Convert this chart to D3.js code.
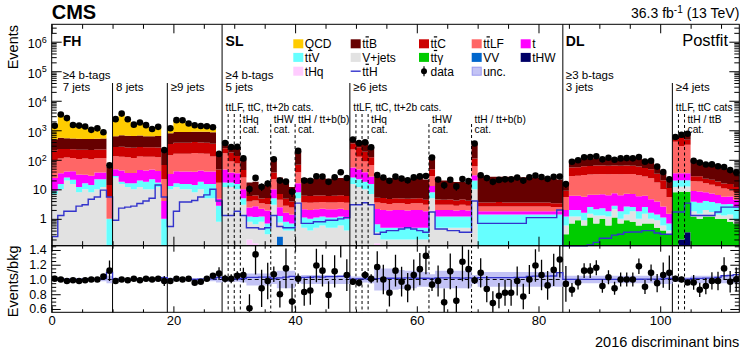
<!DOCTYPE html>
<html><head><meta charset="utf-8">
<script src="https://cdnjs.cloudflare.com/ajax/libs/d3/7.8.5/d3.min.js"></script>
<style>
body{margin:0;background:#fff;}
svg{display:block;font-family:"Liberation Sans",Arial,Helvetica,sans-serif;}
</style>
</head><body>
<svg id="c" width="747" height="352"></svg>
<script>
// ---------------- DATA (per-bin yields, 113 bins) ----------------
const nBins = 113;
const xTicksMajor = [0, 20, 40, 60, 80, 100];
const ratioTicks = [0.6, 0.8, 1.0, 1.2, 1.4];

// QCD only in FH (bins 0-27)
const qcdFH = [900,2850,2100,1000,950,850,530,650,300,0,
  1800,3000,1750,900,1200,850,480,650,0,
  400,1300,1300,800,650,550,450,350,0];

const ttB = [290,330,310,300,300,290,290,290,300,44,
  360,400,390,380,390,360,360,380,150,
  450,500,500,500,500,500,520,500,100,
  120,90,130,60, 11,12,9,11, 60,18,11,8, 130,18,17,17,18,17,17,18,17,
  150,120,180,140, 21,20,19,19,19,18,19,19,17, 80,17.5,15.5,14.5,13.5,13.5,12.5,
  250,24,24,23,23,23,23,22,22,22,21,21,21,20,18,
  7,45,45,48,50,50,50,50,50,49,50,49,47,43,38,28,16,9,
  90,160,320,68,66,53,50,43,34,31,26];

const ttC = [110,120,110,110,110,110,110,110,110,8.5,
  140,150,140,140,140,140,140,140,45,
  200,220,220,220,230,220,220,220,30,
  80,90,60,20, 2,2,1.5,2, 15,2.5,2,1.5, 30,2.5,2.4,2.6,2.5,2.3,2.5,2.6,2.4,
  130,140,100,55, 1.6,1.7,1.5,1.6,1.5,1.6,1.5,1.6,1.4, 20,1.5,1.4,1.5,1.4,1.5,1.3,
  50,1,1,1,1.1,1,1,1,1,1,1,1,1,0.9,0.9,
  3.5,27,27,30,30,31,31,31,31,30,31,30,29,26,24,17,10,5.5,
  90,250,150,9,9,7,7,6,5,5,4];

const ttLF = [75,75,80,75,75,80,75,75,75,4.5,
  85,85,85,80,85,85,80,80,18,
  110,120,120,120,130,120,120,90,12,
  120,50,40,15, 1.5,1.5,1.2,1.2, 12,2,1.2,1, 22,1.5,1.5,1.5,1.5,1.5,1.5,1.5,1.5,
  170,80,50,40, 1.4,1.4,1.3,1.4,1.4,1.3,1.4,1.4,1.2, 15,1,1,1,0.9,1,0.9,
  30,0.8,0.8,0.8,0.8,0.8,0.8,0.8,0.8,0.8,0.8,0.8,0.8,0.7,0.7,
  3.5,22,23,25,25,26,26,26,26,26,26,26,24,21,19,13,7.5,4,
  370,260,290,10,10,8,7,6,5,4.5,3.5];

const tSingle = [15,20,15,20,20,15,15,15,15,0,
  20,25,20,20,25,25,25,25,3,
  20,25,25,25,25,25,25,25,2,
  30,20,20,5, 1.2,1.5,1.0,1.2, 5,1.2,0.8,0.7, 8,1,1,1,1,1,1,1,1,
  30,25,20,12, 1.5,1.5,1.4,1.5,1.5,1.4,1.5,1.5,1.3, 5,0.8,0.8,0.8,0.7,0.8,0.7,
  10,0.4,0.4,0.4,0.4,0.4,0.4,0.4,0.4,0.4,0.4,0.4,0.4,0.4,0.4,
  0.8,4,4,4,4,4.5,4.5,4.5,4.5,4.5,4.5,4.5,4,3.5,3,2.5,1.5,0.8,
  15,15,15,5,5,4,3.5,3,2.5,2.5,2];

const ttV = [2,5,5,6,4,6,6,12,10,1,
  3,3,4,6,8,8,12,5,1,
  3,4,5,5,6,8,10,10,2,
  5,5,5,2, 0.4,0.5,0.4,0.4, 2,0.5,0.4,0.3, 3,0.6,0.6,0.6,0.6,0.6,0.6,0.6,0.6,
  10,10,8,8, 0.3,0.3,0.3,0.3,0.3,0.3,0.3,0.3,0.3, 3,0.7,0.7,0.7,0.7,0.7,0.7,
  10,1.3,1.3,1.3,1.3,1.3,1.3,1.3,1.3,1.3,1.3,1.3,1.3,1.3,1.3,
  0.6,0.8,0.8,0.7,1.0,0.8,1.0,0.6,0.7,0.8,1.2,0.7,0.8,1.0,0.6,0.5,0.5,0.3,
  8,8,8,2,2,2,2,2,1.8,1.8,1.5];

const vJets = [7,10,20,15,8,10,8,10,12,0,
  25,15,12,10,12,10,10,12,0,
  10,12,10,10,8,10,5,5,0.8,
  12,12,10,3, 0.6,0.5,0.8,0.3, 3,0.5,0.4,0.4, 5,0.5,0.4,0.5,0.6,0.5,0.5,0.6,0.4,
  15,12,10,7, 0.2,0.2,0.2,0.2,0.2,0.2,0.2,0.2,0.2, 5,0.5,0.5,0.5,0.5,0.5,0.5,
  10,0.1,0.1,0.1,0.1,0.1,0.1,0.1,0.1,0.1,0.1,0.1,0.1,0.1,0.1,
  0.3,0.5,0.3,0.3,0.4,0.6,0.3,0.6,1.0,0.3,0.5,1.0,0.4,0.8,0.3,0.4,0.2,0.1,
  4,4,4,0.6,0.5,0.8,0.5,0.4,0.3,0.6,0.2];

// ttgamma only in DL (bins 84-112)
const ttGammaDL = [0.3,0.7,0.9,0.6,1.1,0.7,1.0,0.6,1.1,0.7,0.9,0.8,0.6,0.7,0.7,0.5,0.4,0.3,
  8,8,8,1.2,1.0,1.2,1.2,1.0,1.0,0.8,0.7];

// sparse small backgrounds: [bin, yield]
const vvBins  = [[37, 0.25]];
const tHWBins = [[103, 0.2], [104, 0.35]];
const tHqBins = [[32, 0.2], [33, 0.15], [53, 0.15]];

// ttH signal (line, not stacked)
const ttH = [0.25,1.3,1.8,1.8,2.7,3,4.6,5.5,9.4,5.5,
  0.9,2.3,2.5,2.7,3.3,4,5,14,5.5,
  0.55,1.8,3.7,3.7,4.2,5.5,6.5,10,4,
  1.3,1.3,1.8,1.3, 0.5,0.5,0.45,0.5, 1.3,0.55,0.5,0.5, 3.4,0.7,0.7,0.8,0.8,0.9,0.9,1.0,1.1,
  3,3,3.5,3, 0.3,0.35,0.4,0.4,0.45,0.5,0.45,0.4,0.35, 1.7,0.45,0.45,0.4,0.4,0.35,0.35,
  4,0.7,0.7,0.7,0.7,0.7,0.7,0.7,0.7,1.1,1.1,1.1,1.1,1.1,2,
  0.02,0.04,0.06,0.08,0.13,0.16,0.22,0.22,0.28,0.3,0.35,0.36,0.36,0.4,0.4,0.33,0.3,0.3,
  1.7,1.7,3.4,1.3,1.3,1.3,1.3,1.7,2.5,2.5,2.5];

// data / background ratio
const ratio = [1.01,1.0,0.98,0.99,0.98,0.99,1.0,1.0,1.04,1.12,
  0.98,1.0,0.99,1.01,0.99,1.01,1.0,1.01,0.98,
  0.98,1.01,1.0,1.01,0.955,0.97,1.01,1.05,1.08,
  1.01,1.01,1.05,1.06, 0.61,1.34,0.88,0.98, 1.07,0.80,1.15,0.70, 1.01,0.83,0.85,1.19,1.12,0.79,1.11,1.55,1.06,
  0.97,0.955,1.06,1.01, 1.17,1.0,0.82,1.12,0.97,0.89,1.06,1.14,1.32, 0.93,0.98,0.69,1.11,0.71,1.24,1.14,
  0.99,1.09,0.87,0.68,0.78,0.82,0.82,0.98,0.77,1.0,1.19,1.06,0.92,1.13,1.27,
  0.94,0.86,0.96,1.12,1.12,1.16,0.91,1.03,0.88,1.0,1.0,1.0,1.18,0.9,1.09,0.95,1.06,1.09,
  1.01,1.0,0.96,0.96,0.86,0.91,0.98,0.98,1.15,0.97,1.0];

// relative background uncertainty (half width of band)
const uncRel = [0.025,0.02,0.02,0.02,0.02,0.02,0.02,0.02,0.025,0.05,
  0.025,0.02,0.02,0.02,0.02,0.02,0.02,0.025,0.04,
  0.025,0.02,0.02,0.02,0.02,0.02,0.02,0.025,0.04,
  0.03,0.03,0.03,0.04, 0.08,0.08,0.08,0.08, 0.06,0.12,0.12,0.12, 0.05,0.06,0.06,0.06,0.06,0.06,0.06,0.06,0.06,
  0.04,0.04,0.04,0.05, 0.15,0.15,0.15,0.14,0.13,0.12,0.12,0.1,0.1, 0.07,0.12,0.12,0.12,0.12,0.12,0.12,
  0.06,0.1,0.1,0.1,0.1,0.1,0.1,0.1,0.1,0.1,0.1,0.1,0.1,0.1,0.1,
  0.05,0.05,0.05,0.05,0.05,0.05,0.05,0.05,0.05,0.05,0.05,0.05,0.05,0.05,0.05,0.05,0.06,0.06,
  0.03,0.03,0.03,0.05,0.05,0.05,0.05,0.05,0.05,0.05,0.05];

// category separators (bin edges)
const solidFull = [28, 84];
const solidPart = [10, 19, 49, 102];
const dashedA = [29, 30, 31, 50, 51, 52, 103, 104];
const dashedB = [36, 40, 62, 69];

// ---------------- BUILD ----------------
function expandOffset(arr, off){ const o = new Array(nBins).fill(0); arr.forEach((v,i)=>o[off+i]=v); return o; }
function expandSparse(pairs){ const o = new Array(nBins).fill(0); pairs.forEach(([b,v])=>o[b]=v); return o; }

const layers = [ // bottom -> top
  {key:'tHq',  vals: expandSparse(tHqBins), color:'#ffccff'},
  {key:'tHW',  vals: expandSparse(tHWBins), color:'#000066'},
  {key:'VV',   vals: expandSparse(vvBins), color:'#0066cc'},
  {key:'ttG',  vals: expandOffset(ttGammaDL, 84), color:'#00cc00'},
  {key:'Vjets',vals: vJets, color:'#e2e2e2'},
  {key:'ttV',  vals: ttV, color:'#66ffff'},
  {key:'t',    vals: tSingle, color:'#ff00ff'},
  {key:'ttLF', vals: ttLF, color:'#ff6666'},
  {key:'ttC',  vals: ttC, color:'#cc0000'},
  {key:'ttB',  vals: ttB, color:'#660000'},
  {key:'QCD',  vals: expandOffset(qcdFH, 0), color:'#ffcc00'}
];

const total = d3.range(nBins).map(i => d3.sum(layers, l => l.vals[i]));

const svg = d3.select('#c');
const X0 = 51.7, X1 = 739.3;
const MT = 24.3, MB = 245.7, RT = 245.7, RB = 312.3;
const x = d3.scaleLinear().domain([0, nBins]).range([X0, X1]);
const yMin = Math.pow(10, -0.91), yMax = Math.pow(10, 6.59);
const y = d3.scaleLog().domain([yMin, yMax]).range([MB, MT]).clamp(true);
const yr = d3.scaleLinear().domain([0.555, 1.458]).range([RB, RT]).clamp(true);

svg.append('rect').attr('width',747).attr('height',352).attr('fill','#fff');

// stacked histogram
const cum = new Array(nBins).fill(0);
const area = d3.area().x(d=>d[0]).y0(d=>d[1]).y1(d=>d[2]);
layers.forEach(l => {
  const pts = [];
  for (let i=0;i<nBins;i++){
    const lo = cum[i], hi = cum[i] + l.vals[i];
    const y0 = y(Math.max(lo, yMin)), y1 = y(Math.max(hi, yMin));
    pts.push([x(i), y0, y1]); pts.push([x(i+1), y0, y1]);
    cum[i] = hi;
  }
  svg.append('path').attr('d', area(pts)).attr('fill', l.color).attr('stroke','none');
});

// ttH line main
function stepPath(vals, sc){
  const pts = [];
  vals.forEach((v,i)=>{ pts.push([x(i), sc(v)]); pts.push([x(i+1), sc(v)]); });
  return d3.line()(pts);
}
svg.append('path').attr('d', stepPath(ttH.map(v=>Math.max(v,yMin)), y))
  .attr('fill','none').attr('stroke','#3333cc').attr('stroke-width',1.4);

// category lines
function vline(b, yTop, dashed){
  svg.append('line').attr('x1',x(b)).attr('x2',x(b)).attr('y1',yTop).attr('y2',RB)
    .attr('stroke','#000').attr('stroke-width',1)
    .attr('stroke-dasharray', dashed ? '3,2.5' : null);
}
solidFull.forEach(b=>vline(b, MT, false));
solidPart.forEach(b=>vline(b, 83, false));
dashedA.forEach(b=>vline(b, 114, true));
dashedB.forEach(b=>vline(b, 124, true));

// data points main
const dataVals = total.map((t,i)=> t*ratio[i]);
const gD = svg.append('g');
dataVals.forEach((d,i)=>{
  const cx = x(i+0.5), e = Math.sqrt(d);
  gD.append('line').attr('x1',cx).attr('x2',cx).attr('y1',y(Math.max(d-e,yMin))).attr('y2',y(d+e))
    .attr('stroke','#000').attr('stroke-width',1.3);
  gD.append('circle').attr('cx',cx).attr('cy',y(d)).attr('r',3.3).attr('fill','#000');
});

// ratio panel
svg.append('defs').append('clipPath').attr('id','rclip').append('rect')
  .attr('x',X0).attr('y',RT).attr('width',X1-X0).attr('height',RB-RT);
const gR = svg.append('g').attr('clip-path','url(#rclip)');
const bandPts = [];
uncRel.forEach((u,i)=>{ bandPts.push([x(i), yr(1-u), yr(1+u)]); bandPts.push([x(i+1), yr(1-u), yr(1+u)]); });
gR.append('path').attr('d', area(bandPts)).attr('fill','#c3c3f5');
gR.append('line').attr('x1',X0).attr('x2',X1).attr('y1',yr(1)).attr('y2',yr(1))
  .attr('stroke','#000').attr('stroke-width',1).attr('stroke-dasharray','4,3');
gR.append('path').attr('d', stepPath(ttH.map((v,i)=>1+v/total[i]), yr))
  .attr('fill','none').attr('stroke','#3333cc').attr('stroke-width',1.3);
ratio.forEach((r,i)=>{
  const cx = x(i+0.5), e = Math.sqrt(dataVals[i])/total[i];
  gR.append('line').attr('x1',cx).attr('x2',cx).attr('y1',yr(r-e)).attr('y2',yr(r+e))
    .attr('stroke','#000').attr('stroke-width',1.3);
  if (r < 1.458) gR.append('circle').attr('cx',cx).attr('cy',yr(r)).attr('r',3.3).attr('fill','#000');
});

// frames
[[MT,MB],[RT,RB]].forEach(([a,b])=>{
  svg.append('rect').attr('x',X0).attr('y',a).attr('width',X1-X0).attr('height',b-a)
    .attr('fill','none').attr('stroke','#000').attr('stroke-width',1);
});

// axes ticks
function cleanAxis(g){ g.select('.domain').remove(); g.selectAll('line').attr('stroke','#000'); }
const xMinor = d3.range(5, nBins, 5).filter(v=>v%20!==0);
function xAxes(yPos, dirTop, majLen, minLen, labels){
  const mk = dirTop ? d3.axisTop : d3.axisBottom;
  svg.append('g').attr('transform',`translate(0,${yPos})`)
    .call(mk(x).tickValues(xTicksMajor).tickSize(-majLen).tickPadding(3)
      .tickFormat(labels ? d3.format('d') : ''))
    .call(cleanAxis)
    .call(g=>g.selectAll('text').attr('font-size',13).attr('font-family','Liberation Sans, Arial').attr('fill','#000'));
  svg.append('g').attr('transform',`translate(0,${yPos})`)
    .call(mk(x).tickValues(xMinor).tickSize(-minLen).tickFormat(''))
    .call(cleanAxis);
}
xAxes(MT, true, 9, 4.5, false);
xAxes(MB, false, 9, 4.5, false);
xAxes(RT, true, 6, 3, false);
xAxes(RB, false, 6, 3, true);

const yMajor = [0.1,1,10,100,1e3,1e4,1e5,1e6].filter(v=>v>=yMin && v<=yMax);
const yMinorV = [];
[0.1,1,10,100,1e3,1e4,1e5,1e6].forEach(d=>{ for(let k=2;k<=9;k++){ const v=k*d; if(v>=yMin&&v<=yMax) yMinorV.push(v);} });
[[d3.axisLeft, X0],[d3.axisRight, X1]].forEach(([mk,xp])=>{
  svg.append('g').attr('transform',`translate(${xp},0)`)
    .call(mk(y).tickValues(yMajor).tickSize(-10).tickFormat('')).call(cleanAxis);
  svg.append('g').attr('transform',`translate(${xp},0)`)
    .call(mk(y).tickValues(yMinorV).tickSize(-5).tickFormat('')).call(cleanAxis);
  svg.append('g').attr('transform',`translate(${xp},0)`)
    .call(mk(yr).tickValues(ratioTicks).tickSize(-9).tickFormat('')).call(cleanAxis);
  svg.append('g').attr('transform',`translate(${xp},0)`)
    .call(mk(yr).tickValues(d3.range(0.6,1.46,0.05).filter(v=>Math.abs(Math.round(v*5)-v*5)>0.01)).tickSize(-4.5).tickFormat('')).call(cleanAxis);
});

// y labels main
const lbl = svg.append('g').attr('font-size',12.5).attr('fill','#000');
yMajor.forEach(v=>{
  const p = Math.round(Math.log10(v));
  if (p < 0) return;
  const t = lbl.append('text').attr('x', X0-5).attr('text-anchor','end');
  if (p === 0) t.attr('y', y(v)+4.5).text('1');
  else if (p === 1) t.attr('y', y(v)+4.5).text('10');
  else { t.attr('y', y(v)+6.5).text('10').append('tspan').attr('dy',-5.5).attr('font-size',9).text(p); }
});
ratioTicks.forEach(v=>{
  lbl.append('text').attr('x',X0-5).attr('y',yr(v)+4.5).attr('text-anchor','end').text(d3.format('.1f')(v));
});

// titles
svg.append('text').attr('x',X0).attr('y',19.3).attr('font-size',20).attr('font-weight','bold').text('CMS');
const lumi = svg.append('text').attr('x',X1).attr('y',18.3).attr('font-size',14).attr('text-anchor','end');
lumi.append('tspan').text('36.3 fb');
lumi.append('tspan').attr('dy',-5).attr('font-size',10).text('-1');
lumi.append('tspan').attr('dy',5).text(' (13 TeV)');
svg.append('text').attr('transform','translate(18,25) rotate(-90)').attr('text-anchor','end').attr('font-size',14.5).text('Events');
svg.append('text').attr('transform','translate(18,245.5) rotate(-90)').attr('text-anchor','end').attr('font-size',14.5).text('Events/bkg');
svg.append('text').attr('x',X1).attr('y',346.5).attr('text-anchor','end').attr('font-size',14.5).text('2016 discriminant bins');

// region labels
const rg = svg.append('g').attr('fill','#000');
function rt(b, dx, yy, s, size, bold){ rg.append('text').attr('x',x(b)+dx).attr('y',yy).attr('font-size',size||11.5)
  .attr('font-weight',bold?'bold':null).text(s); }
const cs = 10.2;
rt(0, 11, 45.7, 'FH', 14, true);
rt(28, 3.5, 45.7, 'SL', 14, true);
rt(84, 3, 45.7, 'DL', 14, true);
rg.append('text').attr('x',728).attr('y',45.7).attr('text-anchor','end').attr('font-size',16.5).text('Postfit');
rt(0, 11, 79, '\u22654 b-tags'); rt(0, 11, 90.5, '7 jets');
rt(10, 3.5, 90.5, '8 jets'); rt(19, 3.5, 90.5, '\u22659 jets');
rt(28, 3.5, 79, '\u22654 b-tags'); rt(28, 3.5, 90.5, '5 jets');
rt(49, 3.5, 90.5, '\u22656 jets');
rt(28, 3.5, 111, 'ttLF, ttC, tt+2b cats.', cs);
rt(49, 3.5, 111, 'ttLF, ttC, tt+2b cats.', cs);
rt(31, 2.5, 122.5, 'tHq', cs); rt(31, 2.5, 133, 'cat.', cs);
rt(36, 3, 122.5, 'tHW', cs); rt(36, 3, 133, 'cat.', cs);
rt(40, 3, 122.5, 'ttH / tt+b(b)', cs); rt(40, 3, 133, 'cat.', cs);
rt(52, 3, 122.5, 'tHq', cs); rt(52, 3, 133, 'cat.', cs);
rt(62, 3, 122.5, 'tHW', cs); rt(62, 3, 133, 'cat.', cs);
rt(69, 3, 122.5, 'ttH / tt+b(b)', cs); rt(69, 3, 133, 'cat.', cs);
rt(84, 3, 79, '\u22653 b-tags'); rt(84, 3, 90.5, '3 jets');
rt(102, 3.5, 90.5, '\u22654 jets');
rt(102, 3.5, 111, 'ttLF, ttC cats', cs);
rt(104, 3, 122.5, 'ttH / ttB', cs); rt(104, 3, 133, 'cat.', cs);

// legend
const legCols = [293.3, 350.7, 419, 471.7, 520.7];
const legRows = [39.3, 52.9, 66.7];
const legend = [
  [0,0,'box','#ffcc00',['QCD']],
  [1,0,'box','#660000',['t','t','B'], true],
  [2,0,'box','#cc0000',['t','t','C'], true],
  [3,0,'box','#ff6666',['t','t','LF'], true],
  [4,0,'box','#ff00ff',['t']],
  [0,1,'box','#66ffff',['t','t','V'], true],
  [1,1,'box','#e2e2e2',['V+jets']],
  [2,1,'box','#00cc00',['t','t','\u03b3'], true],
  [3,1,'box','#0066cc',['VV']],
  [4,1,'box','#000066',['tHW']],
  [0,2,'box','#ffccff',['tHq']],
  [1,2,'line','#3333cc',['t','t','H'], true],
  [2,2,'data','#000',['data']],
  [3,2,'unc','#c3c3f5',['unc.']]
];
const lg = svg.append('g').attr('font-size',12);
legend.forEach(([c,r,type,col,parts,bar])=>{
  const bx = legCols[c], by = legRows[r];
  if (type==='box') lg.append('rect').attr('x',bx).attr('y',by).attr('width',10).attr('height',9).attr('fill',col);
  else if (type==='unc') lg.append('rect').attr('x',bx+0.5).attr('y',by+0.5).attr('width',9).attr('height',8).attr('fill',col).attr('stroke','#9999ee');
  else if (type==='line') lg.append('line').attr('x1',bx).attr('x2',bx+10).attr('y1',by+4.5).attr('y2',by+4.5).attr('stroke',col).attr('stroke-width',1.4);
  else { lg.append('line').attr('x1',bx+5).attr('x2',bx+5).attr('y1',by-0.5).attr('y2',by+9.5).attr('stroke','#000').attr('stroke-width',1.2);
         lg.append('circle').attr('cx',bx+5).attr('cy',by+4.5).attr('r',3).attr('fill','#000'); }
  const t = lg.append('text').attr('x',bx+11.5).attr('y',by+9);
  if (bar) {
    t.append('tspan').text('t');
    t.append('tspan').attr('text-decoration','overline').text('t');
    t.append('tspan').text(parts[2]);
  } else t.text(parts.join(''));
});
</script>
</body></html>
